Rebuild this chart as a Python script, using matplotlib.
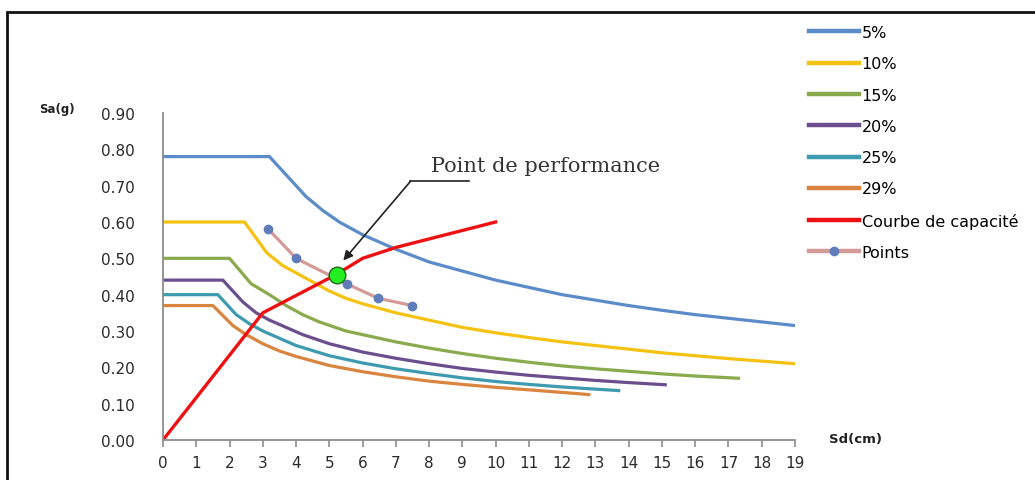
import matplotlib
matplotlib.use("Agg")
import matplotlib.pyplot as plt
from matplotlib.patches import Rectangle

# --- Spectres de demande (format ADRS) pour chaque amortissement ---
sd_5 = [0, 3.2, 4.3, 4.8, 5.3, 6, 7, 8, 9, 10, 11, 12, 13, 14, 15, 16, 17, 18, 19]
sa_5 = [0.78, 0.78, 0.67, 0.632, 0.60, 0.565, 0.525, 0.49, 0.465, 0.44, 0.42,
        0.40, 0.385, 0.37, 0.357, 0.345, 0.335, 0.325, 0.315]

sd_10 = [0, 2.45, 3.12, 3.6, 4, 4.5, 5, 5.5, 6, 7, 8, 9, 10, 11, 12, 13, 14,
         15, 16, 17, 18, 19]
sa_10 = [0.60, 0.60, 0.515, 0.48, 0.46, 0.435, 0.41, 0.39, 0.375, 0.35, 0.33,
         0.31, 0.295, 0.282, 0.27, 0.26, 0.25, 0.24, 0.232, 0.224, 0.217, 0.21]

sd_15 = [0, 2.0, 2.65, 3.2, 3.7, 4.2, 4.7, 5.5, 6, 7, 8, 9, 10, 11, 12, 13, 14,
         15, 16, 17.3]
sa_15 = [0.50, 0.50, 0.43, 0.40, 0.37, 0.345, 0.325, 0.30, 0.29, 0.27, 0.253,
         0.238, 0.225, 0.214, 0.204, 0.196, 0.189, 0.182, 0.176, 0.17]

sd_20 = [0, 1.8, 2.4, 2.8, 3.2, 3.7, 4.2, 5, 6, 7, 8, 9, 10, 11, 12, 13, 14, 15.1]
sa_20 = [0.44, 0.44, 0.38, 0.35, 0.33, 0.31, 0.29, 0.265, 0.242, 0.225, 0.21,
         0.197, 0.187, 0.178, 0.171, 0.164, 0.158, 0.152]

sd_25 = [0, 1.65, 2.2, 2.6, 3, 3.5, 4, 5, 6, 7, 8, 9, 10, 11, 12, 13, 13.7]
sa_25 = [0.40, 0.40, 0.345, 0.32, 0.30, 0.28, 0.26, 0.232, 0.212, 0.196, 0.183,
         0.171, 0.161, 0.153, 0.146, 0.14, 0.136]

sd_29 = [0, 1.5, 2.1, 2.5, 3, 3.5, 4, 5, 6, 7, 8, 9, 10, 11, 12, 12.8]
sa_29 = [0.37, 0.37, 0.315, 0.29, 0.265, 0.245, 0.23, 0.205, 0.188, 0.174,
         0.162, 0.153, 0.145, 0.138, 0.131, 0.125]

# courbe de capacite
sd_cap = [0, 3.0, 5.2, 6.0, 7.0, 10.0]
sa_cap = [0, 0.35, 0.455, 0.50, 0.53, 0.60]

# points (dpi, api)
sd_pts = [3.17, 4.0, 5.52, 6.47, 7.5]
sa_pts = [0.58, 0.50, 0.43, 0.39, 0.37]

# point de performance
pp_sd, pp_sa = 5.22, 0.453

spectres = [
    ("5%", sd_5, sa_5, "#5B8BC9"),
    ("10%", sd_10, sa_10, "#F5C211"),
    ("15%", sd_15, sa_15, "#8AAA4E"),
    ("20%", sd_20, sa_20, "#6A4E8E"),
    ("25%", sd_25, sa_25, "#3E9AAE"),
    ("29%", sd_29, sa_29, "#D9843F"),
]

police = "DejaVu Sans"

fig = plt.figure(figsize=(10.35, 4.81), dpi=100)
ax = fig.add_axes([163 / 1035, 40 / 481, 632 / 1035, 327 / 481])

for nom, sd, sa, c in spectres:
    ax.plot(sd, sa, color=c, lw=2.3, label=nom, solid_joinstyle="round")

ax.plot(sd_cap, sa_cap, color="#EE1111", lw=2.4, label="Courbe de capacité")
ax.plot(sd_pts, sa_pts, color="#D49A98", lw=2.3, marker="o", ms=6,
        mfc="#5F7DB8", mec="#5F7DB8", label="Points")
ax.plot([pp_sd], [pp_sa], "o", ms=12, mfc="#22EE22", mec="#226622", mew=1.0, zorder=5)

# fleche vers le point de performance
ax.plot([7.43, 9.2], [0.713, 0.713], color="#222222", lw=1.2)
ax.annotate("", xy=(5.42, 0.494), xytext=(7.45, 0.713),
            arrowprops=dict(arrowstyle="-|>", color="#222222", lw=1.2,
                            mutation_scale=14, shrinkA=0, shrinkB=0))
ax.text(11.5, 0.755, "Point de performance", family="DejaVu Serif",
        fontsize=15, color="#333333", ha="center", va="center")

ax.set_xlim(0, 19)
ax.set_ylim(0, 0.9)
ax.set_xticks(range(0, 20))
ax.set_yticks([i / 10 for i in range(10)])
ax.set_yticklabels([f"{i / 10:.2f}" for i in range(10)])
for s in ["top", "right"]:
    ax.spines[s].set_visible(False)
for s in ["left", "bottom"]:
    ax.spines[s].set_color("#8C8C8C")
    ax.spines[s].set_linewidth(1.3)
ax.tick_params(axis="x", direction="out", length=5, color="#8C8C8C", width=1.2,
               pad=6, labelsize=11, labelcolor="#2A2A2A")
ax.tick_params(axis="y", length=0, pad=20, labelsize=11, labelcolor="#2A2A2A")
for lab in ax.get_xticklabels() + ax.get_yticklabels():
    lab.set_family(police)

fig.text(57 / 1035, 1 - 110 / 481, "Sa(g)", family=police, fontweight="bold",
         fontsize=8.5, ha="center", va="center", color="#222222")
fig.text(856 / 1035, 1 - 440 / 481, "Sd(cm)", family=police, fontweight="bold",
         fontsize=9.5, ha="center", va="center", color="#222222")

leg = fig.legend(loc="upper left", bbox_to_anchor=(809 / 1035, 1 - 26 / 481),
                 frameon=False, handlelength=3.1, handletextpad=0.2,
                 labelspacing=1.02, prop={"family": police, "size": 11.5},
                 borderaxespad=0, borderpad=0)
for ligne in leg.get_lines():
    ligne.set_linewidth(3.2)

# cadre autour de la figure
fig.patches.append(Rectangle((7 / 1035, -0.1), 1.2, 1 - 13 / 481 + 0.1,
                             transform=fig.transFigure, fill=False,
                             edgecolor="#111111", lw=2.0))

fig.savefig("out.png", dpi=100)
